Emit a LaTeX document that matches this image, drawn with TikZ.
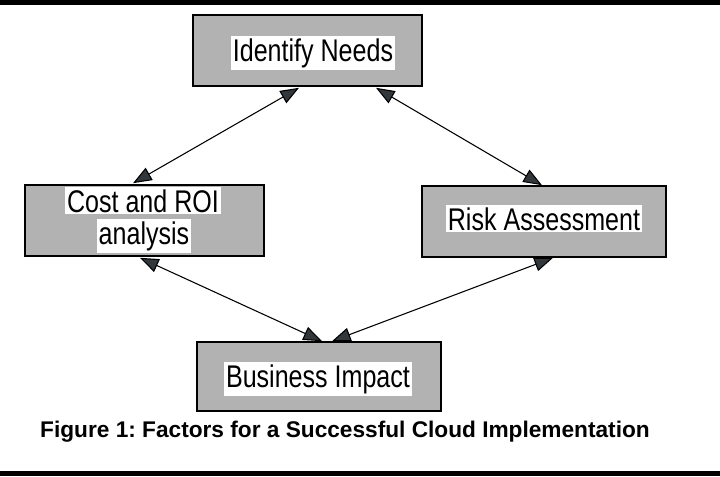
\documentclass[tikz,border=0pt]{standalone}
\usepackage{fontspec}
\setmainfont{Liberation Sans}
\newfontfamily\boxfont[FakeStretch=0.8]{Liberation Sans}
\usetikzlibrary{arrows.meta,calc}
\definecolor{boxgray}{RGB}{178,178,178}
\definecolor{tipgray}{RGB}{50,55,60}
\frenchspacing
\begin{document}
\begin{tikzpicture}[x=0.75pt,y=-0.75pt,
  factorbox/.style={draw=black,line width=1.2pt,fill=boxgray,inner sep=0pt},
  lbl/.style={fill=white,inner xsep=1.5pt,inner ysep=1.5pt,anchor=base,
    font=\boxfont\fontsize{23.5pt}{25pt}\selectfont},
  link/.style={draw=black,line width=0.8pt,
    {Triangle[length=14pt,width=10.5pt,fill=tipgray]}-{Triangle[length=14pt,width=10.5pt,fill=tipgray]}},
  caption/.style={anchor=base,font=\bfseries\fontsize{17pt}{19pt}\selectfont}]
\useasboundingbox (0,0) rectangle (720,476);
\fill[white] (0,0) rectangle (720,476);
\fill[black] (0,0) rectangle (720,5);
\fill[black] (0,471) rectangle (720,476);
% boxes
\node[factorbox,minimum width=171.75pt,minimum height=53.25pt] (ident) at (307.5,50.5) {};
\node[factorbox,minimum width=179.25pt,minimum height=53.25pt] (cost) at (144.5,220.5) {};
\node[factorbox,minimum width=183pt,minimum height=53.25pt] (risk) at (544,221.5) {};
\node[factorbox,minimum width=183pt,minimum height=51.75pt] (biz) at (319,376.5) {};
% labels
\node[lbl] (identT) at (313,61) {Identify Needs};
\node[lbl] (costA) at (143,212) {Cost and ROI};
\node[lbl] (costB) at (144,244) {analysis};
\node[lbl] (riskT) at (544,230) {Risk Assessment};
\node[lbl] (bizT) at (318,387) {Business Impact};
% connectors
\draw[link] ($(ident.south)+(-8.5,1)$) -- ($(cost.north)+(-11.5,-1)$);
\draw[link] ($(ident.south)+(68.5,1)$) -- ($(risk.north)+(-2,0)$);
\draw[link] ($(cost.south)+(-4.5,1)$) -- ($(biz.north)+(3,0)$);
\draw[link] ($(risk.south)+(9,0)$) -- ($(biz.north)+(13,0)$);
% caption
\node[caption] (cap) at (345,437) {Figure 1: Factors for a Successful Cloud Implementation};
\end{tikzpicture}
\end{document}
